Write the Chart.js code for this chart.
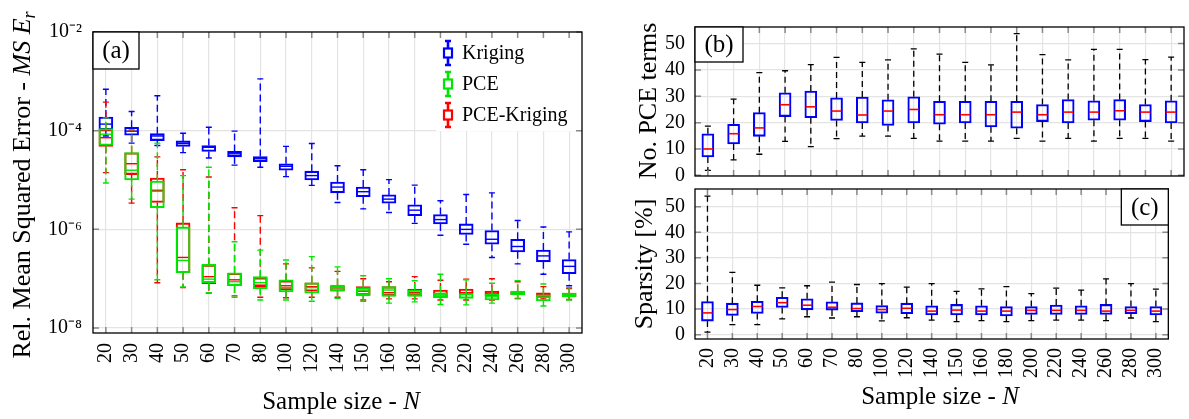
<!DOCTYPE html>
<html><head><meta charset="utf-8">
<script src="https://cdn.jsdelivr.net/npm/chart.js@4.4.1/dist/chart.umd.min.js"></script>
<style>
html,body{margin:0;padding:0;background:#fff;}
#wrap{position:relative;width:1189px;height:419px;background:#fff;overflow:hidden}
canvas{position:absolute;left:0;top:0}
</style></head><body>
<div id="wrap">
<canvas id="cA" width="1189" height="419"></canvas>
<canvas id="cB" width="1189" height="419"></canvas>
<canvas id="cC" width="1189" height="419"></canvas>
</div>
<script>
// ---------- categories ----------
const sampleSizes = ['20','30','40','50','60','70','80','100','120','140','150','160','180','200','220','240','260','280','300'];
const seriesNames = ['Kriging','PCE','PCE-Kriging'];

// ---------- panel (a): Rel. MSE (box stats) ----------
const krigMax = [6.9e-4,2.45e-4,5.1e-4,8.9e-5,1.17e-4,9.8e-5,1.12e-3,4.8e-5,5.5e-5,1.95e-5,1.62e-5,1.02e-5,7.9e-6,3.8e-6,5.1e-6,5.5e-6,1.51e-6,1.12e-6,8.9e-7];
const krigQ3  = [1.89e-4,1.17e-4,8.7e-5,6.2e-5,5.0e-5,3.8e-5,3.0e-5,2.14e-5,1.51e-5,9.1e-6,7.2e-6,5.0e-6,3.16e-6,2.0e-6,1.29e-6,9.5e-7,6.3e-7,3.8e-7,2.45e-7];
const krigMed = [1.36e-4,9.8e-5,7.8e-5,5.5e-5,4.6e-5,3.4e-5,2.7e-5,1.9e-5,1.23e-5,7.2e-6,5.8e-6,4.1e-6,2.45e-6,1.58e-6,1.0e-6,6.3e-7,4.5e-7,2.9e-7,1.78e-7];
const krigQ1  = [1.05e-4,8.1e-5,6.3e-5,4.8e-5,3.8e-5,2.95e-5,2.35e-5,1.58e-5,1.0e-5,5.5e-6,4.6e-6,3.4e-6,1.9e-6,1.29e-6,7.9e-7,5.0e-7,3.5e-7,2.2e-7,1.26e-7];
const krigMin = [7.8e-5,5.6e-5,5.0e-5,3.6e-5,2.8e-5,2.0e-5,1.82e-5,1.17e-5,7.8e-6,3.5e-6,2.6e-6,2.2e-6,1.32e-6,7.6e-7,5.0e-7,2.7e-7,2.0e-7,1.23e-7,7.2e-8];

const pceMax = [1.82e-4,1.05e-4,5.6e-5,1.23e-5,1.82e-5,5.6e-7,3.8e-7,2.4e-7,2.8e-7,1.74e-7,1.15e-7,1.0e-7,9.1e-8,1.23e-7,9.5e-8,8.1e-8,9.1e-8,7.8e-8,6.6e-8];
const pceQ3  = [1.1e-4,3.6e-5,9.5e-6,1.12e-6,1.95e-7,1.32e-7,1.1e-7,9.5e-8,8.3e-8,7.4e-8,6.6e-8,6.9e-8,5.9e-8,5.2e-8,5.0e-8,4.9e-8,5.6e-8,4.7e-8,5.1e-8];
const pceMed = [8.5e-5,1.58e-5,5.9e-6,2.35e-7,9.8e-8,8.7e-8,8.3e-8,6.6e-8,6.6e-8,6.6e-8,5.9e-8,5.9e-8,5.0e-8,4.7e-8,4.9e-8,4.3e-8,5.2e-8,4.2e-8,4.7e-8];
const pceQ1  = [5.0e-5,1.0e-5,2.75e-6,1.32e-7,8.3e-8,7.2e-8,6.3e-8,5.4e-8,5.1e-8,5.6e-8,4.5e-8,4.4e-8,4.4e-8,4.1e-8,4.0e-8,3.7e-8,4.7e-8,3.55e-8,4.3e-8];
const pceMin = [8.7e-6,4.1e-6,9.5e-8,6.8e-8,5.2e-8,4.2e-8,3.7e-8,3.7e-8,3.5e-8,4.0e-8,3.5e-8,3.2e-8,3.4e-8,3.0e-8,2.95e-8,3.2e-8,3.9e-8,2.8e-8,3.7e-8];

const pkMax = [3.8e-4,1.0e-4,2.95e-5,1.62e-5,1.15e-5,2.75e-6,1.9e-6,2.0e-7,1.66e-7,1.41e-7,1.0e-7,8.7e-8,1.1e-7,9.3e-8,9.8e-8,1.0e-7,8.7e-8,6.9e-8,6.3e-8];
const pkQ3  = [1.05e-4,3.55e-5,1.1e-5,1.35e-6,1.9e-7,1.29e-7,1.05e-7,9.1e-8,8.3e-8,7.2e-8,6.9e-8,6.9e-8,6.2e-8,5.9e-8,6.2e-8,5.6e-8,5.5e-8,5.2e-8,5.1e-8];
const pkMed = [7.2e-5,2.14e-5,6.2e-6,2.7e-7,1.1e-7,9.5e-8,7.4e-8,7.2e-8,6.9e-8,6.5e-8,5.6e-8,5.2e-8,5.2e-8,5.0e-8,5.2e-8,5.1e-8,5.2e-8,4.7e-8,4.7e-8];
const pkQ1  = [4.8e-5,1.29e-5,3.5e-6,1.32e-7,7.9e-8,7.2e-8,6.9e-8,5.9e-8,5.6e-8,5.6e-8,4.7e-8,4.5e-8,4.5e-8,4.2e-8,4.9e-8,4.5e-8,4.7e-8,4.3e-8,4.3e-8];
const pkMin = [1.41e-5,3.4e-6,8.3e-8,6.6e-8,5.1e-8,4.5e-8,4.2e-8,4.1e-8,4.2e-8,4.2e-8,3.7e-8,3.9e-8,3.9e-8,3.7e-8,3.7e-8,3.7e-8,4.0e-8,3.9e-8,3.8e-8];

const yTickValuesA = [1e-8, 1e-6, 1e-4, 1e-2];
const yTickLabelsA = ['10\u207B\u2078', '10\u207B\u2076', '10\u207B\u2074', '10\u207B\u00B2'];

// ---------- panel (b): No. PCE terms ----------
const termsMax = [18.7,28.9,39,39.7,42,44.8,42.9,43.8,48,46,42.9,41.9,53.8,45.8,43.8,47.8,47.8,43.9,44.9];
const termsQ3  = [15.8,19.4,23.8,31.3,32,29.4,29.7,28.7,29.8,28.1,28.1,28.1,28.1,26.9,28.8,28.3,28.8,26.9,28.3];
const termsMed = [10,15.8,18,26.8,26,24.4,22.9,24.4,25,23,23,23,24,23,24,24,24.5,24,24];
const termsQ1  = [7,11.9,14.8,22.3,21.9,20.8,19.9,18.9,19.9,19.4,19.9,18.4,17.9,20.4,19.9,20.9,20.9,20.4,19.9];
const termsMin = [1.9,5.9,8,12.9,10.9,13.9,14.9,14.9,14,13,13,13,14,13,14,13,14,14,13];
const yTickValuesBC = [0,10,20,30,40,50];

// ---------- panel (c): Sparsity [%] ----------
const spMax = [54.1,24.3,19.3,18.3,19.1,20.5,19.6,19.9,18.6,19.9,16.9,17.9,18.8,16,18.2,17.4,21.8,19.9,17.8];
const spQ3  = [12.9,12.3,13,14.6,14,12.8,12.4,11.4,12.3,11.3,11.8,11.3,11,11,11.6,11.3,11.8,11,11];
const spMed = [8.5,9.8,11,12.5,11.5,10.7,10.2,9.8,10.3,9.2,9.6,9.2,9.2,9.5,9.5,9.5,9.2,9.5,9.2];
const spQ1  = [5.3,7.5,8.3,10.6,9.7,9.6,9,8.4,8.2,7.7,7.7,7.7,7.3,7.9,7.9,7.9,7.9,8.2,7.7];
const spMin = [1,3.9,3.9,6.2,7,6.5,7,5.4,6.6,5.7,5.1,5.5,5.1,5.5,5.7,5.7,5.5,6.5,5.1];

// ---------- helpers ----------
const SERIF = "Liberation Serif";
Chart.defaults.font.family = SERIF;
Chart.defaults.color = '#000';
const BLUE = '#0000ff', GREEN = '#00e600', RED = '#ff0000';
const TICKFONT = { size: 20, family: SERIF, style: 'normal', weight: 'normal' };

function boxData(q1, q3) { return q1.map((v, i) => [v, q3[i]]); }

function drawRich(ctx, parts, cx, cy, rot) {
  ctx.save();
  ctx.translate(cx, cy);
  if (rot) ctx.rotate(-Math.PI / 2);
  let total = 0;
  parts.forEach(p => { ctx.font = p.font; p.w = ctx.measureText(p.text).width; total += p.w; });
  let x = -total / 2;
  ctx.fillStyle = '#000'; ctx.textBaseline = 'alphabetic'; ctx.textAlign = 'left';
  parts.forEach(p => { ctx.font = p.font; ctx.fillText(p.text, x, p.dy || 0); x += p.w; });
  ctx.restore();
}

const boxPlugin = {
  id: 'boxWhiskers',
  afterDatasetDraw(chart, args) {
    const ds = chart.data.datasets[args.index];
    if (!ds.whisker) return;
    const w = ds.whisker, y = chart.scales.y, ctx = chart.ctx;
    ctx.save();
    args.meta.data.forEach((bar, i) => {
      const x = bar.x, half = bar.width / 2;
      const pMin = y.getPixelForValue(w.min[i]), pMax = y.getPixelForValue(w.max[i]);
      const pQ1 = y.getPixelForValue(ds.data[i][0]), pQ3 = y.getPixelForValue(ds.data[i][1]);
      const pMed = y.getPixelForValue(w.med[i]);
      ctx.strokeStyle = w.color; ctx.lineWidth = w.lineWidth;
      ctx.setLineDash(w.dash);
      ctx.beginPath(); ctx.moveTo(x, pQ3); ctx.lineTo(x, pMax); ctx.stroke();
      ctx.beginPath(); ctx.moveTo(x, pQ1); ctx.lineTo(x, pMin); ctx.stroke();
      ctx.setLineDash([]);
      ctx.beginPath();
      ctx.moveTo(x - w.cap / 2, pMax); ctx.lineTo(x + w.cap / 2, pMax);
      ctx.moveTo(x - w.cap / 2, pMin); ctx.lineTo(x + w.cap / 2, pMin);
      ctx.stroke();
      ctx.strokeStyle = w.medColor; ctx.lineWidth = w.medWidth;
      ctx.beginPath(); ctx.moveTo(x - half + 1, pMed); ctx.lineTo(x + half - 1, pMed); ctx.stroke();
    });
    ctx.restore();
  }
};

const framePlugin = {
  id: 'frame',
  afterDraw(chart, args, opts) {
    const ctx = chart.ctx, a = chart.chartArea;
    const xs = chart.scales.x, ys = chart.scales.y;
    ctx.save();
    if (opts.legend) opts.legend(chart);
    ctx.strokeStyle = '#8a8a8a'; ctx.lineWidth = 1.5;
    ctx.beginPath();
    xs.ticks.forEach((t, i) => {
      const px = xs.getPixelForTick(i);
      ctx.moveTo(px, a.bottom); ctx.lineTo(px, a.bottom - 6);
      ctx.moveTo(px, a.top); ctx.lineTo(px, a.top + 6);
    });
    ys.ticks.forEach((t, i) => {
      const py = ys.getPixelForTick(i);
      ctx.moveTo(a.left, py); ctx.lineTo(a.left + 6, py);
      ctx.moveTo(a.right, py); ctx.lineTo(a.right - 6, py);
    });
    ctx.stroke();
    ctx.strokeStyle = '#000'; ctx.lineWidth = 1.3;
    ctx.strokeRect(a.left, a.top, a.right - a.left, a.bottom - a.top);
    if (opts.tag) {
      const t = opts.tag;
      const x0 = t.right ? a.right - t.w : a.left, y0 = a.top;
      ctx.fillStyle = '#fff'; ctx.fillRect(x0, y0, t.w, t.h);
      ctx.strokeStyle = '#000'; ctx.lineWidth = 1.3; ctx.strokeRect(x0, y0, t.w, t.h);
      ctx.fillStyle = '#000'; ctx.font = '25px ' + SERIF; ctx.textAlign = 'center'; ctx.textBaseline = 'middle';
      ctx.fillText(t.text, x0 + t.w / 2, y0 + t.h / 2 + 1);
    }
    (opts.titles || []).forEach(tt => drawRich(ctx, tt.parts, tt.x, tt.y, tt.rot));
    ctx.restore();
  }
};

function drawLegendA(chart) {
  const ctx = chart.ctx, a = chart.chartArea;
  const x0 = a.right - 146, y0 = a.top, y1 = chart.scales.y.getPixelForValue(1e-4);
  ctx.fillStyle = '#fff'; ctx.fillRect(x0, y0 + 0.5, a.right - x0, y1 - y0);
  const colors = [BLUE, GREEN, RED];
  seriesNames.forEach((name, k) => {
    const cx = x0 + 12, cy = y0 + 21 + k * 31;
    ctx.strokeStyle = colors[k]; ctx.lineWidth = 2.6;
    ctx.beginPath();
    ctx.moveTo(cx, cy - 12); ctx.lineTo(cx, cy + 12);
    ctx.moveTo(cx - 3, cy - 12); ctx.lineTo(cx + 3, cy - 12);
    ctx.moveTo(cx - 3, cy + 12); ctx.lineTo(cx + 3, cy + 12);
    ctx.stroke();
    ctx.fillStyle = '#fff'; ctx.fillRect(cx - 4, cy - 4.5, 8, 9);
    ctx.lineWidth = 2.2; ctx.strokeRect(cx - 4, cy - 4.5, 8, 9);
    ctx.fillStyle = '#000'; ctx.font = '20px ' + SERIF; ctx.textAlign = 'left'; ctx.textBaseline = 'middle';
    ctx.fillText(name, cx + 14, cy + 1);
  });
}

const gridStyle = { color: '#e4e4e4', lineWidth: 1.2, drawTicks: false };

// ---------- chart (a) ----------
function whiskerA(color, min, max, med) {
  return { color, min, max, med, medColor: color, lineWidth: 1.4, medWidth: 1.4, cap: 6, dash: [7, 4] };
}
new Chart(document.getElementById('cA'), {
  type: 'bar',
  data: {
    labels: sampleSizes,
    datasets: [
      { label: seriesNames[0], data: boxData(krigQ1, krigQ3), order: 2,
        whisker: whiskerA(BLUE, krigMin, krigMax, krigMed),
        backgroundColor: 'rgba(0,0,0,0)', borderColor: BLUE, borderWidth: 1.4, borderSkipped: false, barThickness: 14, grouped: false },
      { label: seriesNames[1], data: boxData(pceQ1, pceQ3), order: 0,
        whisker: whiskerA(GREEN, pceMin, pceMax, pceMed),
        backgroundColor: 'rgba(0,0,0,0)', borderColor: GREEN, borderWidth: 1.4, borderSkipped: false, barThickness: 14, grouped: false },
      { label: seriesNames[2], data: boxData(pkQ1, pkQ3), order: 1,
        whisker: whiskerA(RED, pkMin, pkMax, pkMed),
        backgroundColor: 'rgba(0,0,0,0)', borderColor: RED, borderWidth: 1.4, borderSkipped: false, barThickness: 14, grouped: false }
    ]
  },
  options: {
    responsive: false, animation: false, events: [],
    layout: { padding: { left: 0, top: 32, right: 607, bottom: 0 } },
    plugins: {
      legend: { display: false }, tooltip: { enabled: false },
      frame: {
        legend: drawLegendA,
        tag: { text: '(a)', w: 46, h: 37 },
        titles: [
          { parts: [{ text: 'Rel. Mean Squared Error - ', font: '26px ' + SERIF },
                    { text: 'MS ', font: 'italic 26px ' + SERIF },
                    { text: 'E', font: 'italic 26px ' + SERIF },
                    { text: 'r', font: 'italic 18px ' + SERIF, dy: 5 }], x: 30, y: 185, rot: true },
          { parts: [{ text: 'Sample size - ', font: '25px ' + SERIF },
                    { text: 'N', font: 'italic 25px ' + SERIF }], x: 341, y: 409 }
        ]
      }
    },
    scales: {
      x: {
        type: 'category', offset: true,
        grid: Object.assign({ offset: false }, gridStyle),
        border: { display: false },
        ticks: { autoSkip: false, maxRotation: 90, minRotation: 90, padding: 10, font: TICKFONT, color: '#000' },
        afterFit: s => { s.height = 86; }
      },
      y: {
        type: 'logarithmic', min: 7.94e-9, max: 1e-2,
        grid: gridStyle, border: { display: false },
        afterBuildTicks: s => { s.ticks = yTickValuesA.map(v => ({ value: v })); },
        ticks: { padding: 11, font: TICKFONT, color: '#000',
                 callback: (v, i) => yTickLabelsA[i] },
        afterFit: s => { s.width = 93; }
      }
    }
  },
  plugins: [boxPlugin, framePlugin]
});

// ---------- charts (b) and (c) ----------
function whiskerBC(min, max, med) {
  return { color: '#000', min, max, med, medColor: RED, lineWidth: 1.3, medWidth: 1.6, cap: 6, dash: [6, 4] };
}
function rightChart(id, q1, q3, min, max, med, yMin, yMax, top, xHeight, showX, tag, titles) {
  return new Chart(document.getElementById(id), {
    type: 'bar',
    data: {
      labels: sampleSizes,
      datasets: [{ data: boxData(q1, q3), whisker: whiskerBC(min, max, med),
        backgroundColor: 'rgba(0,0,0,0)', borderColor: BLUE, borderWidth: 1.4, borderSkipped: false, barThickness: 12 }]
    },
    options: {
      responsive: false, animation: false, events: [],
      layout: { padding: { left: 0, top: top, right: 5, bottom: 0 } },
      plugins: { legend: { display: false }, tooltip: { enabled: false }, frame: { tag, titles } },
      scales: {
        x: {
          type: 'category', offset: true,
          grid: Object.assign({ offset: false }, gridStyle),
          border: { display: false },
          ticks: { display: showX, autoSkip: false, maxRotation: 90, minRotation: 90, padding: 9, font: TICKFONT, color: '#000' },
          afterFit: s => { s.height = xHeight; }
        },
        y: {
          type: 'linear', min: yMin, max: yMax,
          grid: gridStyle, border: { display: false },
          afterBuildTicks: s => { s.ticks = yTickValuesBC.map(v => ({ value: v })); },
          ticks: { padding: 10, font: TICKFONT, color: '#000' },
          afterFit: s => { s.width = 695; }
        }
      }
    },
    plugins: [boxPlugin, framePlugin]
  });
}
rightChart('cB', termsQ1, termsQ3, termsMin, termsMax, termsMed, -0.25, 56.3, 27, 243, false,
  { text: '(b)', w: 48, h: 35 },
  [{ parts: [{ text: 'No. PCE terms', font: '26px ' + SERIF }], x: 656, y: 101, rot: true }]);
rightChart('cC', spQ1, spQ3, spMin, spMax, spMed, -1.7, 56.9, 189, 80, true,
  { text: '(c)', w: 47, h: 36, right: true },
  [{ parts: [{ text: 'Sparsity [%]', font: '26px ' + SERIF }], x: 652, y: 264, rot: true },
   { parts: [{ text: 'Sample size - ', font: '25px ' + SERIF },
             { text: 'N', font: 'italic 25px ' + SERIF }], x: 940, y: 404 }]);
</script>
</body></html>
